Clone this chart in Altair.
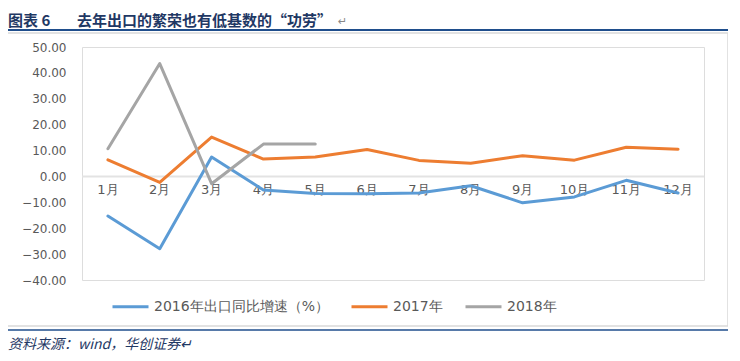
import altair as alt
import pandas as pd

months = ["1月", "2月", "3月", "4月", "5月", "6月", "7月", "8月", "9月", "10月", "11月", "12月"]
series_names = ["2016年出口同比增速（%）", "2017年", "2018年"]
s2016 = [-15.3, -27.9, 7.5, -5.2, -6.6, -6.7, -6.4, -3.6, -10.2, -7.9, -1.5, -6.4]
s2017 = [6.4, -2.3, 15.2, 6.7, 7.5, 10.4, 6.2, 5.1, 8.0, 6.3, 11.3, 10.5]
s2018 = [10.7, 43.6, -2.8, 12.5, 12.5]
y_ticks = [-40, -30, -20, -10, 0, 10, 20, 30, 40, 50]
colors = ["#5B9BD5", "#ED7D31", "#A5A5A5"]

rows = []
for name, vals in zip(series_names, [s2016, s2017, s2018]):
    for m, v in zip(months, vals):
        rows.append({"month": m, "series": name, "value": v})
df = pd.DataFrame(rows)
mdf = pd.DataFrame({"month": months, "zero": [0] * len(months)})
one = pd.DataFrame({"a": [0], "zero": [0]})

FONT = "DejaVu Sans"
NAVY = "#1F3864"

x_enc = alt.X("month:O", sort=months, axis=None,
              scale=alt.Scale(type="point", padding=0.5))
y_scale = alt.Scale(domain=[-40, 50], nice=False, zero=False)
y_axis = alt.Axis(values=y_ticks, format=".2f", grid=False, ticks=False, domain=False,
                  labelFont=FONT, labelFontSize=12, labelColor="#595959", labelPadding=16,
                  title=None)

zero_rule = alt.Chart(one).mark_rule(color="#E3E3E3", strokeWidth=2).encode(
    x=alt.value(0), x2=alt.value(622), y=alt.Y("zero:Q", scale=y_scale, axis=y_axis))

border = alt.Chart(one).mark_rect(fill="transparent", stroke="#D9D9D9", strokeWidth=1.5).encode(
    x=alt.value(-75), x2=alt.value(646), y=alt.value(-14), y2=alt.value(279))

labels = alt.Chart(mdf).mark_text(font=FONT, fontSize=13, color="#595959", dy=14, baseline="middle").encode(
    x=x_enc, y=alt.Y("zero:Q", scale=y_scale, axis=y_axis), text="month:N")

lines = alt.Chart(df).mark_line(strokeWidth=3, strokeJoin="round", strokeCap="round").encode(
    x=x_enc,
    y=alt.Y("value:Q", scale=y_scale, axis=y_axis),
    color=alt.Color("series:N", sort=series_names,
                    scale=alt.Scale(domain=series_names, range=colors),
                    legend=alt.Legend(orient="none", legendX=29, legendY=240, direction="horizontal",
                                      title=None, symbolType="stroke", symbolStrokeWidth=3,
                                      symbolSize=1296, labelFont=FONT, labelFontSize=14,
                                      labelColor="#595959", labelOffset=4, columnPadding=16,
                                      labelLimit=400)),
)

title_rule = alt.Chart(one).mark_rule(color="#1F4E8C", strokeWidth=2).encode(
    x=alt.value(-82), x2=alt.value(650), y=alt.value(-17))
bottom_rule = alt.Chart(one).mark_rule(color="#1F4E8C", strokeWidth=1.5).encode(
    x=alt.value(-82), x2=alt.value(650), y=alt.value(283))

t1 = alt.Chart(one).mark_text(font="Noto Sans CJK SC", fontSize=15, fontWeight="bold", color=NAVY,
                              align="left", baseline="middle").encode(
    x=alt.value(-74), y=alt.value(-26), text=alt.value("图表 6"))
t2 = alt.Chart(one).mark_text(font="Noto Sans CJK SC", fontSize=15, fontWeight="bold", color=NAVY,
                              align="left", baseline="middle").encode(
    x=alt.value(-5), y=alt.value(-26), text=alt.value("去年出口的繁荣也有低基数的“功劳”"))
t2b = alt.Chart(one).mark_text(font=FONT, fontSize=11, color="#888888",
                               align="left", baseline="middle").encode(
    x=alt.value(256), y=alt.value(-25), text=alt.value("↵"))
src = alt.Chart(one).mark_text(font="Noto Sans CJK SC", fontSize=14, fontStyle="italic", color=NAVY,
                               align="left", baseline="middle").encode(
    x=alt.value(-74), y=alt.value(298), text=alt.value("资料来源：wind，华创证券↵"))

chart = alt.layer(border, zero_rule, labels, lines, title_rule, bottom_rule, t1, t2, t2b, src).properties(
    width=622, height=233,
    autosize=alt.AutoSizeParams(type="none"),
    padding={"left": 74, "top": 39, "right": 24, "bottom": 73},
).configure_view(stroke=None).configure(background="white")

chart.save("out.html", embed_options={"renderer": "svg", "actions": False})
